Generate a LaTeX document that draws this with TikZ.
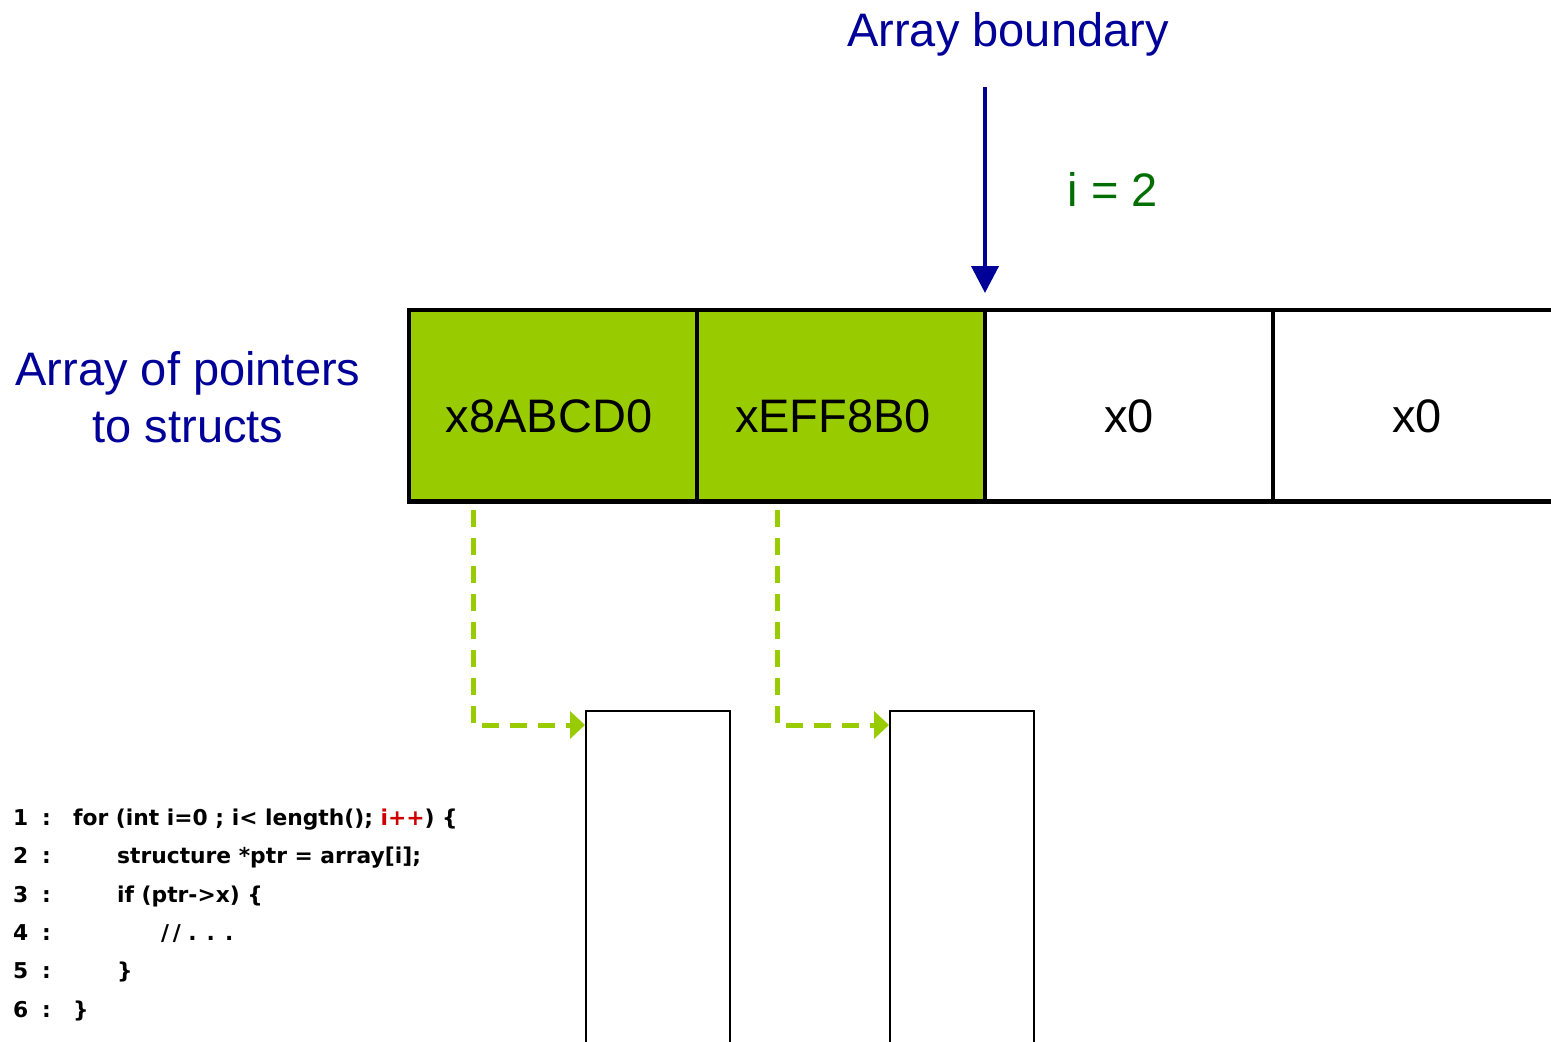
\documentclass[tikz,border=0pt]{standalone}
\usepackage{fontspec}
\setmainfont{Liberation Sans}
\newfontfamily\codefont{DejaVu Sans}
\usetikzlibrary{arrows.meta,calc}
\definecolor{dblue}{RGB}{0,0,153}
\definecolor{dgreen}{RGB}{0,110,0}
\definecolor{lime}{RGB}{153,204,0}
\definecolor{cred}{RGB}{204,0,0}
\tikzset{
  bigtxt/.style={font=\fontsize{47}{57}\selectfont, inner sep=0pt, anchor=base},
  cell/.style={minimum width=288pt, minimum height=191pt, inner sep=0pt, anchor=north west},
  structbox/.style={draw=black, line width=2pt, minimum width=144pt, minimum height=400pt, inner sep=0pt, anchor=north west},
  codetxt/.style={font=\codefont\bfseries\fontsize{21.8}{26}\selectfont, inner sep=0pt, anchor=base west},
  ptrline/.style={draw=lime, line width=5pt, dash pattern=on 17pt off 11pt, -{Triangle[length=15pt,width=27pt]}},
  arrline/.style={line width=4.5pt, line join=miter},
}
\begin{document}
\begin{tikzpicture}[x=1pt,y=-1pt]
\useasboundingbox (0,0) rectangle (1551,1042);
% array cells
\node[cell, fill=lime] (c1) at (409,310) {};
\node[cell, fill=lime] (c2) at (697,310) {};
\node[cell] (c3) at (985,310) {};
\node[cell] (c4) at (1273,310) {};
\draw[arrline] (c4.north east) -- (c1.north west) -- (c1.south west) -- (c4.south east);
\draw[arrline] (c2.north west) -- (c2.south west);
\draw[arrline] (c3.north west) -- (c3.south west);
\draw[arrline] (c4.north west) -- (c4.south west);
\node[bigtxt] (t1) at (549,432) {x8ABCD0};
\node[bigtxt] (t2) at (833,432) {xEFF8B0};
\node[bigtxt] (t3) at (1129,432) {x0};
\node[bigtxt] (t4) at (1417,432) {x0};
% labels
\node[bigtxt, text=dblue] (ab) at (1008,46) {Array boundary};
\node[bigtxt, text=dgreen] (ieq) at (1113,206) {i = 2};
\node[bigtxt, text=dblue] (ap1) at (188,385) {Array of pointers};
\node[bigtxt, text=dblue] (ap2) at (188,442) {to structs};
% boundary arrow
\coordinate (bs) at (985,87);
\coordinate (be) at (985,293);
\draw[dblue, line width=4pt, -{Triangle[length=27pt,width=27pt]}] (bs) -- (be);
% struct boxes
\node[structbox] (s1) at (585,710) {};
\node[structbox] (s2) at (889,710) {};
% pointer lines
\coordinate (d1) at (473,510);
\coordinate (d2) at (777,510);
\draw[ptrline] (d1) |- ($(s1.north west)+(0,15)$);
\draw[ptrline] (d2) |- ($(s2.north west)+(0,15)$);
% code
\foreach \n/\y in {1/825,2/863.5,3/902,4/940,5/978.5,6/1017}{
  \node[codetxt] (n\n) at (13,\y) {\n};
  \node[codetxt] (k\n) at (42,\y) {:};
}
\node[codetxt] (l1) at (73,825) {for (int i=0 ; i< length(); \textcolor{cred}{i++}) \{};
\node[codetxt] (l2) at (117,863.5) {structure *ptr = array[i];};
\node[codetxt] (l3) at (117,902) {if (ptr->x) \{};
\node[codetxt] (l4) at (161,940) {/\,/ . . .};
\node[codetxt] (l5) at (117,978.5) {\}};
\node[codetxt] (l6) at (73,1017) {\}};
\end{tikzpicture}
\end{document}
